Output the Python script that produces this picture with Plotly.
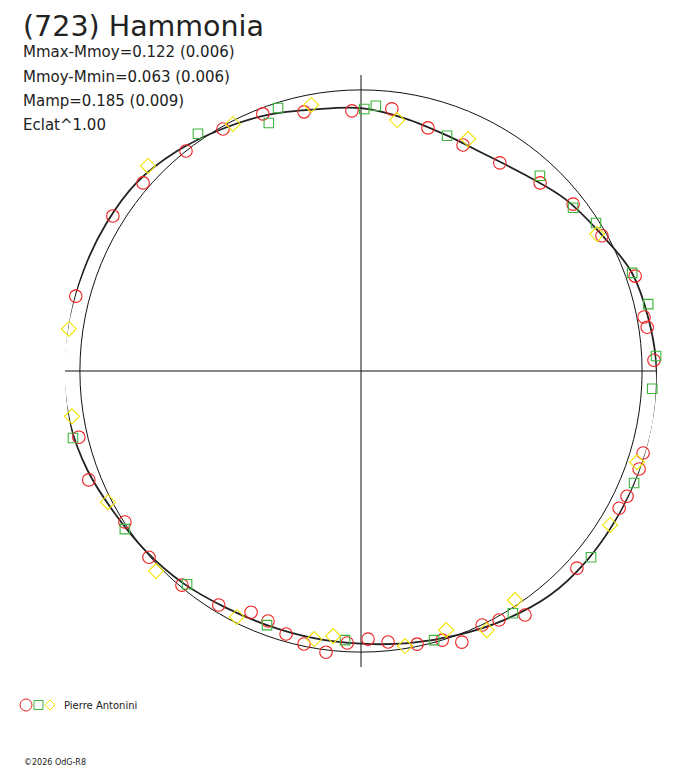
import plotly.graph_objects as go

# polar lightcurve of (723) Hammonia: angle = rotation phase (deg), radius = relative flux
ECLAT_EXP = 1.00

fit_phase = [0, 10, 20, 30, 40, 50, 60, 70, 80, 90, 100, 110, 120, 130, 140, 150, 160, 170,
             180, 190, 200, 210, 220, 230, 240, 250, 260, 270, 280, 290, 300, 310, 320, 330,
             340, 350, 360]
fit_flux = [0.935, 0.912, 0.892, 0.888, 0.910, 0.950, 0.982, 1.025, 1.040, 1.052, 1.056, 1.053,
            1.050, 1.049, 1.043, 1.022, 1.000, 0.983, 0.970, 0.965, 0.964, 0.970, 0.985, 0.998,
            1.012, 1.035, 1.052, 1.058, 1.055, 1.050, 1.047, 1.042, 1.020, 0.993, 0.970, 0.945,
            0.935]

red_phase = [321.5, 330.3, 339.1, 347.6, 358.0, 6.7, 15.4, 24.3, 33.7, 43.6, 51.8, 60.7, 70.9,
             79.2, 81.3, 87.9, 89.8, 96.5, 100.8, 106.2, 109.4, 115.2, 118.0, 123.7, 126.6,
             132.4, 137.3, 142.2, 146.1, 151.0, 154.5, 159.6, 163.2, 168.4, 174.3, 178.5,
             182.9, 187.1, 191.8, 195.9, 200.4, 204.5, 211.3, 219.9, 228.7, 237.4, 248.2,
             256.8, 265.4, 274.2, 284.7, 293.5, 302.0, 310.8]
red_flux = [1.000, 0.991, 0.979, 0.944, 0.926, 0.939, 0.897, 0.882, 0.890, 0.924, 0.960, 0.983,
            1.032, 1.025, 1.030, 1.043, 1.071, 1.067, 1.062, 1.045, 1.049, 1.046, 1.040, 1.057,
            1.063, 1.040, 1.055, 1.058, 1.046, 1.013, 1.001, 1.029, 1.000, 0.992, 0.969, 0.954,
            0.969, 1.008, 0.992, 0.973, 0.949, 0.943, 0.974, 0.993, 1.004, 0.997, 1.043,
            1.031, 1.060, 1.060, 1.049, 1.071, 1.041, 1.024]

green_phase = [325.5, 342.5, 339.6, 0.7, 3.2, 20.1, 42.5, 52.4, 57.8, 70.1, 76.9, 87.1, 93.5,
               104.8, 112.3, 121.4, 129.0, 147.9, 164.8, 183.4, 200.3, 219.2, 236.2, 256.9,
               271.5, 290.1, 306.9]
green_flux = [1.024, 0.981, 0.941, 0.932, 0.945, 0.891, 0.942, 0.952, 0.988, 1.026, 1.049, 1.051,
              1.038, 1.060, 1.050, 1.059, 1.053, 1.017, 0.992, 0.959, 0.964, 0.979, 1.011, 1.052,
              1.061, 1.057, 1.055]

yellow_phase = [332.6, 349.4, 8.2, 24.8, 59.9, 82.3, 94.0, 108.3, 113.6, 121.7, 132.9, 146.1,
                154.1, 161.8, 170.9, 186.0, 189.9, 206.8, 225.7, 242.6, 297.1, 278.2, 261.1, 313.9]
yellow_flux = [0.990, 0.963, 0.902, 0.909, 0.971, 1.056, 1.067, 1.034, 1.060, 1.042, 1.055, 0.982,
               1.025, 0.970, 0.991, 0.948, 0.968, 0.980, 1.019, 1.014, 1.063, 1.050, 1.041, 1.052]

info_lines = ["Mmax-Mmoy=0.122 (0.006)", "Mmoy-Mmin=0.063 (0.006)", "Mamp=0.185 (0.009)",
              "Eclat^1.00"]

RED = "#ee2020"
GREEN = "#3db53d"
YELLOW = "#f2e400"
INK = "#222222"

# the page body adds 8px around the figure
W, H = 680, 760


def px(x):
    return (x - 8) / W


def py(y):
    return 1 - (y - 8) / H


fig = go.Figure()

fig.add_trace(go.Scatterpolar(
    theta=fit_phase, r=[f ** ECLAT_EXP for f in fit_flux],
    mode="lines", line=dict(color=INK, width=1.8, shape="spline"),
    cliponaxis=False, hoverinfo="skip"))

for ph, fl, sym, size, col in [
        (red_phase, red_flux, "circle-open", 12.5, RED),
        (green_phase, green_flux, "square-open", 9.5, GREEN),
        (yellow_phase, yellow_flux, "diamond-open", 11.5, YELLOW)]:
    fig.add_trace(go.Scatterpolar(
        theta=ph, r=[f ** ECLAT_EXP for f in fl], mode="markers",
        marker=dict(symbol=sym, size=size, color=col, line=dict(width=1.1)),
        cliponaxis=False))

fig.update_layout(
    width=W, height=H,
    margin=dict(l=0, r=0, t=0, b=0),
    paper_bgcolor="white",
    showlegend=False,
    font=dict(family="DejaVu Sans", color=INK),
    polar=dict(
        domain=dict(x=[px(65), px(657)], y=[py(667), py(75)]),
        bgcolor="white",
        angularaxis=dict(rotation=90, direction="clockwise", tickvals=[0, 90, 180, 270],
                         showticklabels=False, ticks="", showline=False,
                         gridcolor="#111111", gridwidth=1.1),
        radialaxis=dict(range=[0, 1.053], tickvals=[1], showticklabels=False, ticks="",
                        showline=False, gridcolor="#111111", gridwidth=1.1),
    ),
)

fig.add_annotation(text="(723) Hammonia", x=px(21), y=1, xref="paper", yref="paper",
                   xanchor="left", yanchor="top", showarrow=False,
                   font=dict(size=28.5, color=INK))
for i, line in enumerate(info_lines):
    fig.add_annotation(text=line, x=px(21), y=py(52 + 24.5 * i), xref="paper",
                       yref="paper", xanchor="left", yanchor="middle", showarrow=False,
                       font=dict(size=15, color=INK))

# legend row at the bottom
fig.add_shape(type="circle", xref="paper", yref="paper", x0=px(20), x1=px(32),
              y0=py(711), y1=py(699), line=dict(color=RED, width=1))
fig.add_shape(type="rect", xref="paper", yref="paper", x0=px(34), x1=px(43),
              y0=py(709.5), y1=py(700.5), line=dict(color=GREEN, width=1))
fig.add_shape(type="path", xref="paper", yref="paper",
              path="M {0},{1} L {2},{3} L {0},{4} L {5},{3} Z".format(
                  px(50), py(700), px(55), py(705), py(710), px(45)),
              line=dict(color=YELLOW, width=1))
fig.add_annotation(text="Pierre Antonini", x=px(62), y=py(705), xref="paper",
                   yref="paper", xanchor="left", yanchor="middle", showarrow=False,
                   font=dict(size=10, color=INK))
fig.add_annotation(text="©2026 OdG-R8", x=px(22), y=py(762), xref="paper",
                   yref="paper", xanchor="left", yanchor="middle", showarrow=False,
                   font=dict(size=8, color=INK))

fig.write_html("out.html")
